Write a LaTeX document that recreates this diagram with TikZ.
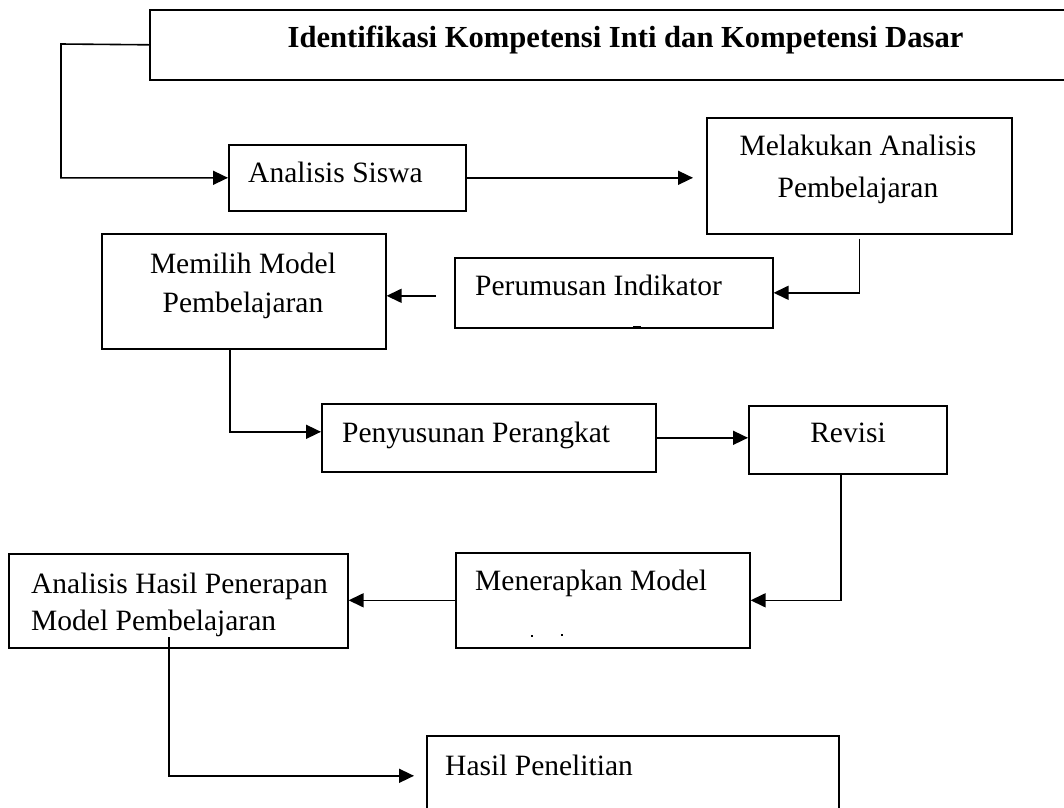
\documentclass[tikz,border=0pt]{standalone}
\usepackage{fontspec}
\setmainfont{Liberation Serif}
\usetikzlibrary{arrows.meta,calc}
\begin{document}
\begin{tikzpicture}[x=1pt,y=-1pt,
  box/.style={draw,line width=1.6pt,rectangle,inner sep=0pt,anchor=north west},
  txt/.style={inner sep=0pt,font=\fontsize{29.5}{43}\selectfont},
  arr/.style={line width=1.6pt,-{Triangle[length=15pt,width=14pt]}},
  ln/.style={line width=1.6pt}]
\clip (0,0) rectangle (1064,807);
\fill[white] (0,0) rectangle (1064,807);
% boxes
\node[box,minimum width=940pt,minimum height=70pt] (top) at (149,9) {};
\node[box,minimum width=237pt,minimum height=66pt] (analisis) at (228,144) {};
\node[box,minimum width=305pt,minimum height=116pt] (melakukan) at (706,117) {};
\node[box,minimum width=318pt,minimum height=70pt] (perumusan) at (454,257) {};
\node[box,minimum width=284pt,minimum height=115pt] (memilih) at (101,233) {};
\node[box,minimum width=334pt,minimum height=68pt] (penyusunan) at (321,403) {};
\node[box,minimum width=198pt,minimum height=68pt] (revisi) at (748,405) {};
\node[box,minimum width=294pt,minimum height=95pt] (menerapkan) at (455,552) {};
\node[box,minimum width=339pt,minimum height=94pt] (analisishasil) at (8,553) {};
\node[box,minimum width=412pt,minimum height=100pt] (hasil) at (426,735) {};
% texts
\node[txt,anchor=base,font=\fontsize{30.6}{43}\selectfont\bfseries] (ttop) at (625.5,47) {Identifikasi Kompetensi Inti dan Kompetensi Dasar};
\node[txt,anchor=base west] (tanalisis) at (248,182) {Analisis Siswa};
\node[txt,anchor=base] (tmel1) at (858,155) {Melakukan Analisis};
\node[txt,anchor=base] (tmel2) at (858,197) {Pembelajaran};
\node[txt,anchor=base west] (tperumusan) at (475,295) {Perumusan Indikator};
\node[txt,anchor=base] (tmem1) at (243,273) {Memilih Model};
\node[txt,anchor=base] (tmem2) at (243,312) {Pembelajaran};
\node[txt,anchor=base west] (tpenyusunan) at (342,442) {Penyusunan Perangkat};
\node[txt,anchor=base] (trevisi) at (848,442) {Revisi};
\node[txt,anchor=base west] (tmenerapkan) at (475,590) {Menerapkan Model};
\node[txt,anchor=base west] (tah1) at (31,593) {Analisis Hasil Penerapan};
\node[txt,anchor=base west] (tah2) at (31,630) {Model Pembelajaran};
\node[txt,anchor=base west] (thasil) at (445,775) {Hasil Penelitian};
% small marks
\draw[line width=3pt] (633,327) -- (641,327);
\draw[line width=1.5pt] (531,636) -- (533,636);
\draw[line width=1.5pt] (561,635) -- (563,635);
% connectors
\coordinate (c1) at (61,44);
\draw[arr] (top.west) -- (c1) |- (analisis.west);
\draw[arr,shorten >=13pt] (analisis.east) -- (analisis.east -| melakukan.west);
\draw[arr,shorten <=4pt] (melakukan.south) |- (perumusan.east);
\draw[arr,shorten <=18pt] ([yshift=-3pt]perumusan.west) -- ([yshift=-3pt]perumusan.west -| memilih.east);
\draw[arr] ([xshift=-14pt]memilih.south) |- ([yshift=6pt]penyusunan.west);
\draw[arr] (penyusunan.east) -- (penyusunan.east -| revisi.west);
\draw[arr] ([xshift=-7pt]revisi.south) |- (menerapkan.east);
\draw[arr] (menerapkan.west) -- (menerapkan.west -| analisishasil.east);
\coordinate (c2) at (169,637);
\draw[arr,shorten >=12pt] (c2) |- ([yshift=10pt]hasil.west);
\end{tikzpicture}
\end{document}
